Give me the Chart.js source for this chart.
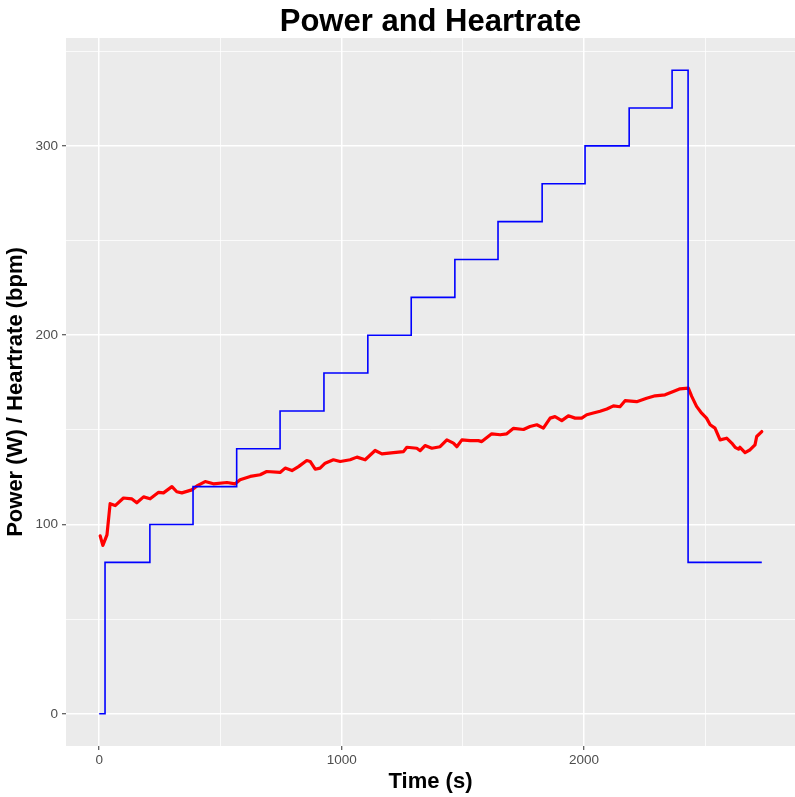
<!DOCTYPE html>
<html>
<head>
<meta charset="utf-8">
<script src="https://cdn.jsdelivr.net/npm/chart.js@4/dist/chart.umd.min.js"></script>
<style>
	html, body { margin: 0; padding: 0; background: #fff; }
	#wrap { width: 795px; height: 797px; }
</style>
</head>
<body>
<div id="wrap"><canvas id="myChart"></canvas></div>
<script>
// Power steps: time where each level starts (s) and the level (W)
const powerTime = [0, 24, 209, 387, 567, 746, 927, 1108, 1287, 1467, 1645, 1827, 2004, 2186, 2363, 2429, 2733];
const powerWatts = [0, 80, 100, 120, 140, 160, 180, 200, 220, 240, 260, 280, 300, 320, 340, 80, 80];

// Heartrate samples (s, bpm)
const hrTime = [4, 15, 32, 45, 66, 100, 135, 155, 183, 210, 245, 265, 300, 320, 341, 382, 403, 437, 471, 527,
	561, 581, 623, 664, 691, 746, 767, 795, 822, 856, 870, 891, 911, 932, 966, 994, 1035, 1063, 1097, 1138,
	1166, 1214, 1255, 1269, 1310, 1324, 1344, 1372, 1406, 1434, 1461, 1475, 1496, 1530, 1564, 1578, 1619, 1654, 1681, 1709,
	1750, 1777, 1805, 1832, 1860, 1880, 1908, 1935, 1963, 1990, 2011, 2038, 2066, 2094, 2121, 2148, 2169, 2217, 2258, 2293,
	2334, 2368, 2396, 2430, 2444, 2464, 2485, 2505, 2520, 2540, 2561, 2588, 2609, 2623, 2637, 2643, 2664, 2685, 2705, 2712, 2733];
const hrBpm = [94, 89, 94.5, 111, 110, 114, 113.5, 111.5, 114.6, 113.6, 117, 116.7, 120, 117.3, 116.7, 118.3, 120.4, 122.7, 121.5, 122.2,
	121.5, 123.6, 125.4, 126.3, 128, 127.5, 129.8, 128.5, 130.6, 133.8, 133.3, 129.2, 129.8, 132.4, 134.2, 133.3, 134.2, 135.6, 134.2, 139.1,
	137.3, 138, 138.5, 140.8, 140.3, 139, 141.7, 140.3, 141.1, 144.7, 143, 141.1, 144.7, 144.3, 144.3, 143.8, 147.9, 147.4, 147.9, 150.8,
	150.2, 151.8, 152.7, 150.9, 156.2, 157, 154.9, 157.4, 156.2, 156.2, 158, 158.9, 159.8, 161, 162.7, 162.2, 165.4, 164.9, 166.7, 168,
	168.5, 170.3, 171.7, 172, 167.7, 162.4, 158.8, 156.2, 152.7, 150.9, 144.7, 145.6, 143, 140.8, 139.8, 140.8, 138, 139.5, 142.1, 146.5, 149.1];

// Grid / tick positions
const xGrid = [0, 500, 1000, 1500, 2000, 2500];
const yGrid = [0, 50, 100, 150, 200, 250, 300, 350];

const FONT = "'Liberation Sans', Arial, Helvetica, sans-serif";

// grey panel + title centred over the panel
const panelPlugin = {
	id: 'panel',
	beforeDraw(chart) {
		const {ctx, chartArea: a} = chart;
		ctx.save();
		ctx.fillStyle = '#ffffff';
		ctx.fillRect(0, 0, chart.width, chart.height);
		ctx.fillStyle = '#EBEBEB';
		ctx.fillRect(a.left, a.top, a.right - a.left, a.bottom - a.top);
		ctx.restore();
	},
	afterDraw(chart) {
		const {ctx, chartArea: a} = chart;
		ctx.save();
		ctx.font = 'bold 31px ' + FONT;
		ctx.fillStyle = '#000';
		ctx.textAlign = 'center';
		ctx.textBaseline = 'alphabetic';
		ctx.fillText('Power and Heartrate', (a.left + a.right) / 2, 31);
		ctx.restore();
	}
};

const isMajorX = v => v % 1000 === 0;
const isMajorY = v => v % 100 === 0;

const data = {
	datasets: [{
		label: 'Power',
		data: powerTime.map((t, i) => ({x: t, y: powerWatts[i]})),
		borderColor: '#0000FF',
		borderWidth: 1.6,
		stepped: 'before',
		pointRadius: 0,
		fill: false
	}, {
		label: 'Heartrate',
		data: hrTime.map((t, i) => ({x: t, y: hrBpm[i]})),
		borderColor: '#FF0000',
		borderWidth: 3.2,
		tension: 0,
		borderJoinStyle: 'round',
		borderCapStyle: 'round',
		pointRadius: 0,
		fill: false
	}]
};

const options = {
	responsive: true,
	maintainAspectRatio: false,
	animation: false,
	layout: {
		padding: {top: 38, left: 0, right: 0, bottom: 0}
	},
	plugins: {
		legend: {display: false},
		tooltip: {enabled: false},
		title: {display: false}
	},
	scales: {
		x: {
			type: 'linear',
			min: -137,
			max: 2870,
			afterBuildTicks: s => { s.ticks = xGrid.map(v => ({value: v})); },
			afterFit: s => { s.height = 51; },
			border: {display: false},
			grid: {
				color: '#ffffff',
				lineWidth: c => isMajorX(c.tick.value) ? 1.5 : 0.75,
				tickColor: c => isMajorX(c.tick.value) ? '#333333' : 'rgba(0,0,0,0)',
				tickLength: 4,
				tickWidth: 1
			},
			ticks: {
				autoSkip: false,
				maxRotation: 0,
				padding: 2,
				color: '#4D4D4D',
				font: {family: FONT, size: 13.5},
				callback: v => isMajorX(v) ? String(v) : ''
			},
			title: {
				display: true,
				text: 'Time (s)',
				color: '#000',
				font: {family: FONT, size: 22, weight: 'bold'},
				padding: {top: 0, bottom: 2}
			}
		},
		y: {
			type: 'linear',
			min: -17,
			max: 357,
			afterBuildTicks: s => { s.ticks = yGrid.map(v => ({value: v})); },
			afterFit: s => { s.width = 66; },
			border: {display: false},
			grid: {
				color: '#ffffff',
				lineWidth: c => isMajorY(c.tick.value) ? 1.5 : 0.75,
				tickColor: c => isMajorY(c.tick.value) ? '#333333' : 'rgba(0,0,0,0)',
				tickLength: 4,
				tickWidth: 1
			},
			ticks: {
				autoSkip: false,
				padding: 4,
				color: '#4D4D4D',
				font: {family: FONT, size: 13.5},
				callback: v => isMajorY(v) ? String(v) : ''
			},
			title: {
				display: true,
				text: 'Power (W) / Heartrate (bpm)',
				color: '#000',
				font: {family: FONT, size: 22, weight: 'bold'},
				padding: {top: 3, bottom: 0}
			}
		}
	}
};

new Chart(document.getElementById('myChart'), {
	type: 'line',
	data: data,
	options: options,
	plugins: [panelPlugin]
});
</script>
</body>
</html>
